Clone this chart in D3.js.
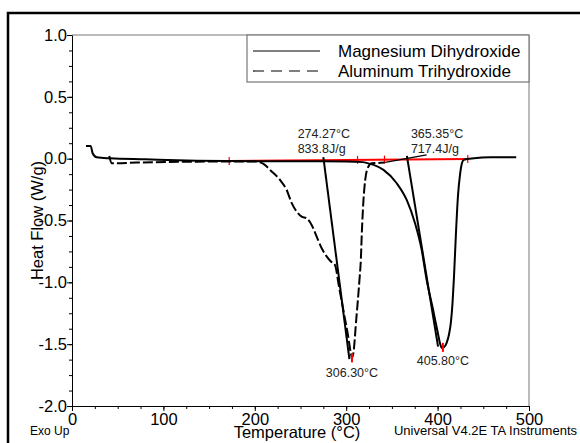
<!DOCTYPE html>
<html lang="en">

<head>
    <meta charset="UTF-8" />
    <title>DSC</title>
    <script src="https://d3js.org/d3.v7.min.js"></script>
    <style>
        body {
            margin: 0;
            background: #fff;
        }

        svg text {
            font-family: "Liberation Sans", Arial, sans-serif;
            fill: #000;
        }

        .axis .domain,
        .axis line {
            stroke: #000;
        }
    </style>
</head>

<body>
    <svg id="dsc" width="580" height="443"></svg>
    <script>
        // curves: [temperature °C, heat flow W/g]
        const magnesiumDihydroxide = [
            [15.3, 0.103], [20.4, 0.103], [22.6, 0.044], [27, 0.011], [41.6, 0.003],
            [80, -0.005], [136.5, -0.016], [200, -0.02], [260, -0.02], [300, -0.022],
            [318, -0.028], [325, -0.04], [330, -0.05], [340.8, -0.091], [355.3, -0.199],
            [366.2, -0.334], [375.3, -0.522], [382.6, -0.738], [388, -0.98], [395, -1.22],
            [400, -1.4], [402.9, -1.5], [404.7, -1.53], [407, -1.525], [409.9, -1.49],
            [412.5, -1.42], [414.6, -1.32], [416.3, -1.17], [417.9, -0.96], [420.1, -0.6],
            [422.3, -0.3], [424.5, -0.132], [426.7, -0.035], [428.6, -0.01], [440, 0.003],
            [457.6, 0.011], [486, 0.012]
        ];

        const aluminumTrihydroxide = [
            [40.8, 0.022], [43.4, -0.037], [70.8, -0.032], [136.5, -0.024], [200, -0.022],
            [206, -0.03], [211, -0.05], [216.7, -0.091], [227.6, -0.172], [234.9, -0.253],
            [240.4, -0.36], [245.8, -0.428], [251.3, -0.469], [256.7, -0.482], [262.2, -0.536],
            [267.7, -0.63], [273.2, -0.724], [278.6, -0.79], [283, -0.83], [287.7, -0.86],
            [292, -1.03], [297, -1.23], [302, -1.43], [305, -1.57], [306.2, -1.61],
            [307.9, -1.57], [311, -1.3], [314.5, -0.98], [316, -0.82], [317.1, -0.6],
            [318.9, -0.334], [320.8, -0.172], [324.2, -0.065], [328, -0.037], [334, -0.035],
            [342, -0.03]
        ];

        // onset construction lines
        const onsetTangent1 = [[275.0, 0.012], [303.5, -1.62]];
        const onsetTangent2 = [[366.4, 0.022], [400.5, -1.52]];
        const onsetBaseline2 = [[342.6, -0.03], [388, 0.03]];

        // red integration baseline, its limit marks, and peak marks
        const integrationLine = [[172, -0.018], [433, -0.002]];
        const limitTemps = [172, 312.4, 341.9, 433];
        const peakMarks = [[306.3, -1.615], [405.8, -1.53]];

        const xTicks = [0, 100, 200, 300, 400, 500];
        const xMinorTicks = d3.range(0, 501, 25);
        const yTicks = [1.0, 0.5, 0.0, -0.5, -1.0, -1.5, -2.0];
        const yMinorTicks = d3.range(-2.0, 1.0001, 0.125);

        const legendNames = ["Magnesium Dihydroxide", "Aluminum Trihydroxide"];

        const onsetTemps = [274.27, 365.35];
        const onsetLabels = [["274.27°C", "833.8J/g"], ["365.35°C", "717.4J/g"]];
        const peakLabels = ["306.30°C", "405.80°C"];

        const svg = d3.select("svg#dsc");
        const margins = { top: 35, right: 51, bottom: 37, left: 72 };
        const chartWidth = 580 - margins.left - margins.right;
        const chartHeight = 443 - margins.top - margins.bottom;

        const xScale = d3.scaleLinear().domain([0, 500]).range([0, chartWidth]);
        const yScale = d3.scaleLinear().domain([-2, 1]).range([chartHeight, 0]);

        // outer frame
        svg.append("rect")
            .attr("x", 8)
            .attr("y", 13)
            .attr("width", 600)
            .attr("height", 500)
            .attr("fill", "none")
            .attr("stroke", "#000")
            .attr("stroke-width", 2.5);

        const annotations = svg.append("g").attr("id", "annotations");
        const chartArea = svg.append("g")
            .attr("id", "chart")
            .attr("transform", `translate(${margins.left},${margins.top})`);

        // top and right edges of the plot box
        chartArea.append("path")
            .attr("d", `M0,0H${chartWidth}V${chartHeight}`)
            .attr("fill", "none")
            .attr("stroke", "#777")
            .attr("stroke-width", 1);

        const fmt = (d) => (d < 0 ? "-" : "") + d3.format(".1f")(Math.abs(d));

        annotations.append("g")
            .attr("class", "y axis minor")
            .attr("transform", `translate(${margins.left},${margins.top})`)
            .call(d3.axisLeft(yScale).tickValues(yMinorTicks).tickSize(3).tickSizeOuter(0).tickFormat(""));

        annotations.append("g")
            .attr("class", "y axis")
            .attr("transform", `translate(${margins.left},${margins.top})`)
            .call(d3.axisLeft(yScale).tickValues(yTicks).tickSize(5).tickSizeOuter(0).tickPadding(0).tickFormat(fmt))
            .call((g) => g.selectAll("text").style("font-size", "16.5px").attr("font-family", null));

        annotations.append("g")
            .attr("class", "x axis minor")
            .attr("transform", `translate(${margins.left},${margins.top + chartHeight})`)
            .call(d3.axisBottom(xScale).tickValues(xMinorTicks).tickSize(3).tickSizeOuter(0).tickFormat(""));

        annotations.append("g")
            .attr("class", "x axis")
            .attr("transform", `translate(${margins.left},${margins.top + chartHeight})`)
            .call(d3.axisBottom(xScale).tickValues(xTicks).tickSize(5).tickSizeOuter(0).tickPadding(2).tickFormat(d3.format("d")))
            .call((g) => g.selectAll("text").style("font-size", "16.5px").attr("font-family", null));

        // axis titles and footer text
        annotations.append("text")
            .attr("transform", `translate(43,${margins.top + chartHeight / 2}) rotate(-90)`)
            .attr("text-anchor", "middle")
            .style("font-size", "16.5px")
            .text("Heat Flow (W/g)");

        annotations.append("text")
            .attr("x", 297)
            .attr("y", 438)
            .attr("text-anchor", "middle")
            .style("font-size", "16.5px")
            .text("Temperature (°C)");

        annotations.append("text")
            .attr("x", 30)
            .attr("y", 435)
            .style("font-size", "12px")
            .text("Exo Up");

        annotations.append("text")
            .attr("x", 577)
            .attr("y", 435)
            .attr("text-anchor", "end")
            .style("font-size", "13px")
            .text("Universal V4.2E TA Instruments");

        const lineGen = d3.line()
            .x((d) => xScale(d[0]))
            .y((d) => yScale(d[1]))
            .curve(d3.curveMonotoneX);

        const straight = d3.line()
            .x((d) => xScale(d[0]))
            .y((d) => yScale(d[1]));

        // red integration baseline
        chartArea.append("path")
            .datum(integrationLine)
            .attr("fill", "none")
            .attr("stroke", "#f00")
            .attr("stroke-width", 2)
            .attr("d", straight);

        const baseY = d3.scaleLinear()
            .domain(integrationLine.map((d) => d[0]))
            .range(integrationLine.map((d) => d[1]));

        chartArea.selectAll("line.limit")
            .data(limitTemps)
            .join("line")
            .attr("class", "limit")
            .attr("x1", (d) => xScale(d))
            .attr("x2", (d) => xScale(d))
            .attr("y1", (d) => yScale(baseY(d)) - 4)
            .attr("y2", (d) => yScale(baseY(d)) + 4)
            .attr("stroke", "#f00")
            .attr("stroke-width", 1.2);

        chartArea.append("path")
            .datum(aluminumTrihydroxide)
            .attr("fill", "none")
            .attr("stroke", "#000")
            .attr("stroke-width", 2)
            .style("stroke-dasharray", "10 3")
            .attr("d", lineGen);

        chartArea.append("path")
            .datum(magnesiumDihydroxide)
            .attr("fill", "none")
            .attr("stroke", "#000")
            .attr("stroke-width", 2)
            .attr("d", lineGen);

        [onsetTangent1, onsetTangent2].forEach((seg) => {
            chartArea.append("path")
                .datum(seg)
                .attr("fill", "none")
                .attr("stroke", "#000")
                .attr("stroke-width", 2)
                .attr("d", straight);
        });

        chartArea.append("path")
            .datum(onsetBaseline2)
            .attr("fill", "none")
            .attr("stroke", "#000")
            .attr("stroke-width", 1.3)
            .attr("d", straight);

        chartArea.selectAll("line.peak")
            .data(peakMarks)
            .join("line")
            .attr("class", "peak")
            .attr("x1", (d) => xScale(d[0]))
            .attr("x2", (d) => xScale(d[0]))
            .attr("y1", (d) => yScale(d[1]) - 5)
            .attr("y2", (d) => yScale(d[1]) + 4)
            .attr("stroke", "#f00")
            .attr("stroke-width", 2);

        // onset / enthalpy labels
        const labelShift = [-25, 5];
        onsetTemps.forEach((t, k) => {
            const x = xScale(t) + labelShift[k];
            const txt = chartArea.append("text")
                .attr("x", x)
                .attr("y", yScale(0) - 21)
                .style("font-size", "12.5px")
                .style("fill", "#222");
            onsetLabels[k].forEach((s, i) => {
                txt.append("tspan")
                    .attr("x", x)
                    .attr("dy", i === 0 ? 0 : 15)
                    .text(s);
            });
        });

        chartArea.selectAll("text.peak")
            .data(peakMarks)
            .join("text")
            .attr("class", "peak")
            .attr("x", (d) => xScale(d[0]))
            .attr("y", (d, i) => yScale(d[1]) + (i === 0 ? 19 : 17))
            .attr("text-anchor", "middle")
            .style("font-size", "12.5px")
            .style("fill", "#222")
            .text((d, i) => peakLabels[i]);

        // legend
        const legend = svg.append("g").attr("id", "legend");
        legend.append("rect")
            .attr("x", 247)
            .attr("y", margins.top)
            .attr("width", margins.left + chartWidth - 247)
            .attr("height", 47)
            .attr("fill", "#fff")
            .attr("stroke", "#777")
            .attr("stroke-width", 1.2);

        legendNames.forEach((name, i) => {
            const y = 51 + i * 20;
            legend.append("line")
                .attr("x1", 253)
                .attr("x2", 320)
                .attr("y1", y)
                .attr("y2", y)
                .attr("stroke", "#000")
                .attr("stroke-width", 1.2)
                .style("stroke-dasharray", i === 1 ? "11 7" : null);
            legend.append("text")
                .attr("x", 338)
                .attr("y", y + 5.5)
                .style("font-size", "17px")
                .text(name);
        });
    </script>
</body>

</html>
